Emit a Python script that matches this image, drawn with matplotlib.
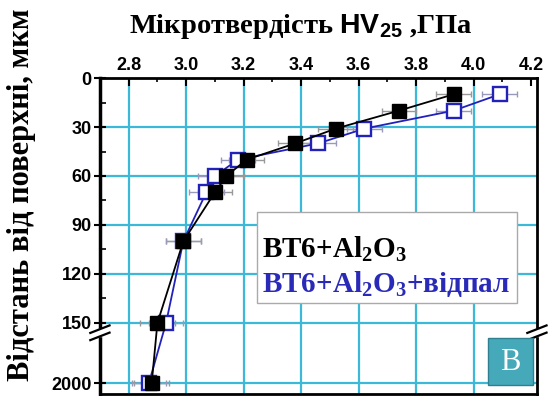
import numpy as np
import matplotlib.pyplot as plt
from matplotlib.patches import Rectangle

plt.rcParams['mathtext.fontset'] = 'custom'
plt.rcParams['mathtext.rm'] = 'Liberation Serif:bold'
plt.rcParams['mathtext.sf'] = 'Liberation Sans:bold'
plt.rcParams['mathtext.default'] = 'rm'

# depth from surface, um (2000 sits below the axis break)
depth = [10, 20, 31, 40, 50, 60, 70, 100, 150, 2000]
hv_bt6 = [3.93, 3.74, 3.52, 3.38, 3.21, 3.14, 3.10, 2.99, 2.90, 2.88]
hv_ann = [4.09, 3.93, 3.62, 3.46, 3.18, 3.10, 3.07, 2.99, 2.93, 2.87]
hv_err = 0.06

yticks = [0, 30, 60, 90, 120, 150, 2000]
xticks = [2.8, 3.0, 3.2, 3.4, 3.6, 3.8, 4.0, 4.2]

BREAK = 156
FAR = 187


def pos(d):
    # broken axis: deep point is drawn at a fixed spot under the break
    return d if d <= 150 else FAR


ypos = [pos(d) for d in depth]

fig = plt.figure(figsize=(5.49, 3.96), dpi=100)
ax = fig.add_axes([0.182, 0.005, 0.796, 0.798])

grid_c = '#3cb8d8'
for x in xticks[:-1]:
    ax.axvline(x, color=grid_c, lw=1.6, zorder=0)
for y in yticks[1:]:
    ax.axhline(pos(y), color=grid_c, lw=1.6, zorder=0)

ax.errorbar(hv_bt6, ypos, xerr=hv_err, fmt='none', ecolor='#999999',
            elinewidth=1, capsize=2, zorder=1)
ax.errorbar(hv_ann, ypos, xerr=hv_err, fmt='none', ecolor='#9999bb',
            elinewidth=1, capsize=2, zorder=1)
ax.plot(hv_ann, ypos, color='#2222bb', lw=1.3, marker='s', ms=10,
        mfc='white', mec='#2222bb', mew=1.7, zorder=3)
ax.plot(hv_bt6, ypos, color='black', lw=1.3, marker='s', ms=10,
        mfc='black', mec='black', zorder=4)

ax.set_xlim(2.7, 4.22)
ax.set_ylim(193.5, 0)

ax.xaxis.tick_top()
ax.set_xticks(xticks)
ax.set_xticklabels([f'{v:.1f}' for v in xticks])
ax.set_xticks(np.arange(2.7, 4.21, 0.1), minor=True)
ax.set_yticks([pos(y) for y in yticks])
ax.set_yticklabels([str(y) for y in yticks])
ax.set_yticks([15, 45, 75, 105, 135], minor=True)

for lab in ax.get_xticklabels() + ax.get_yticklabels():
    lab.set_family('Liberation Sans')
    lab.set_fontweight('bold')
    lab.set_fontsize(13)

ax.tick_params(axis='x', which='major', direction='in', length=6, width=1.5, pad=3)
ax.tick_params(axis='x', which='minor', direction='in', length=3, width=1.2)
ax.tick_params(axis='y', which='major', direction='inout', length=8, width=1.5, pad=2)
ax.tick_params(axis='y', which='minor', direction='in', length=4, width=1.2)

for s in ax.spines.values():
    s.set_linewidth(2)
ax.spines['left'].set_linewidth(2.5)

# axis break marks
for xb in (0.0, 1.0):
    ax.add_patch(Rectangle((xb - 0.012, BREAK - 2.2), 0.024, 4.4,
                           transform=ax.get_yaxis_transform(), color='white',
                           zorder=5, clip_on=False))
    for dy in (-2.2, 2.2):
        ax.plot([xb - 0.022, xb + 0.022], [BREAK + dy + 2.3, BREAK + dy - 2.3],
                transform=ax.get_yaxis_transform(), color='black', lw=1.6,
                zorder=6, clip_on=False)

fig.text(0.548, 0.932, r'Мікротвердість $\mathsf{HV_{25}}$ ,ГПа',
         family='Liberation Serif', fontweight='bold', fontsize=20.5,
         ha='center', va='center')
fig.text(0.04, 0.508, 'Відстань від поверхні, мкм', family='Liberation Serif',
         fontweight='bold', fontsize=22, rotation=90, ha='center', va='center')

# legend box with text only
ax.add_patch(Rectangle((0.359, 0.288), 0.595, 0.288, transform=ax.transAxes,
                       facecolor='white', edgecolor='#aaaaaa', lw=1, zorder=7))
ax.text(0.371, 0.43, r'ВТ6+Al$_2$O$_3$', transform=ax.transAxes,
        family='Liberation Serif', fontweight='bold', fontsize=21,
        color='black', va='baseline', zorder=8)
ax.text(0.371, 0.323, r'ВТ6+Al$_2$O$_3$+відпал', transform=ax.transAxes,
        family='Liberation Serif', fontweight='bold', fontsize=21,
        color='#2a2ab8', va='baseline', zorder=8)

# panel letter
ax.add_patch(Rectangle((0.887, 0.03), 0.103, 0.147, transform=ax.transAxes,
                       facecolor='#46a9ba', edgecolor='#2e7f90', lw=1, zorder=7))
ax.text(0.9385, 0.1, 'В', transform=ax.transAxes, family='Liberation Serif',
        fontsize=22, color='white', ha='center', va='center', zorder=8)

fig.savefig('out.png', dpi=100)
